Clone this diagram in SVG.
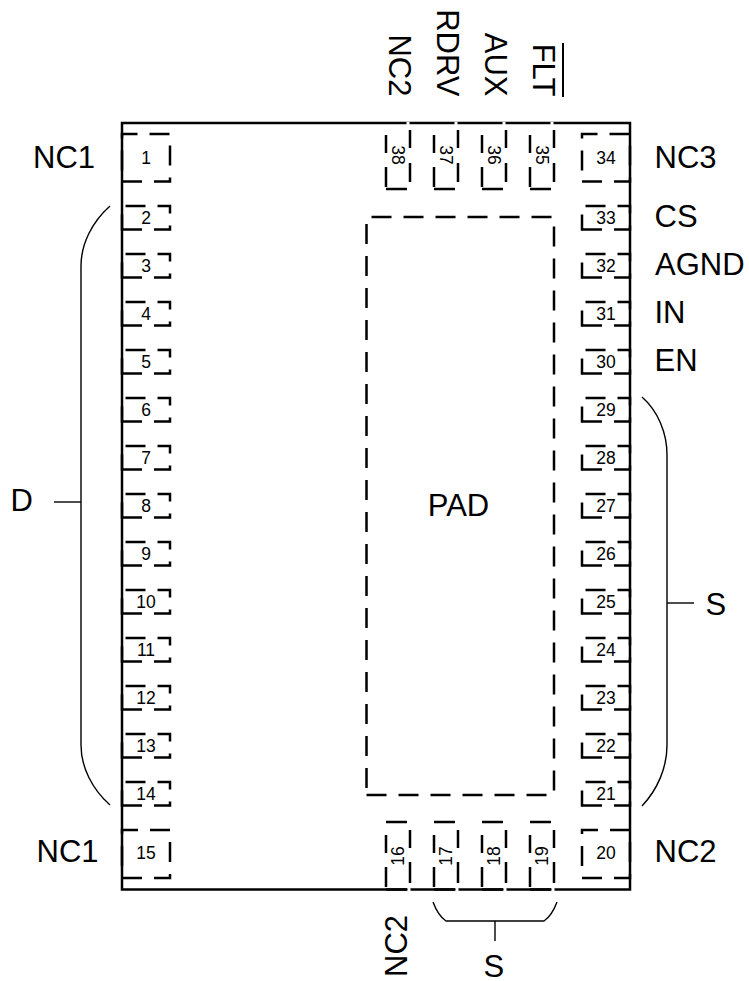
<svg xmlns="http://www.w3.org/2000/svg" width="749" height="981" viewBox="0 0 749 981">
<style>
text{font-family:"Liberation Sans",Arial,sans-serif;fill:#000}
.l{font-size:31px}
.n{font-size:17.500px;text-anchor:middle}
.p{fill:none;stroke:#000;stroke-width:2.5;stroke-dasharray:20 12}
.s{fill:none;stroke:#000;stroke-width:2.5}
.b{fill:none;stroke:#000;stroke-width:1.400}
.w{stroke:#fff;stroke-width:3}
</style>
<rect width="749" height="981" fill="#fff"/>
<g id="connectors">
<path class="b" d="M110 206C92 222 81 244 81 266V745C81 767 92 789 110 805"/>
<path class="b" d="M54 502H81"/>
<path class="b" d="M642 397C658 411 667 433 667 455V745C667 767 658 789 642 806"/>
<path class="b" d="M667 603H694"/>
<path class="b" d="M433 902C436 910 440 917 446 921H544C550 917 554 910 557 902"/>
<path class="b" d="M495 921V941"/>
</g>
<g id="package"><rect x="122" y="123" width="508" height="766.500" fill="none" stroke="#000" stroke-width="2.500"/></g>
<g id="pad"><path class="p" d="M366.500 795H554V217H366.500Z"/><text class="l" x="458.500" y="516" text-anchor="middle">PAD</text></g>
<g id="pin1"><path class="p" d="M122 181.500H170V134H122Z"/><text class="n" x="146" y="164">1</text></g>
<g id="pin2"><path class="p" d="M122 229.500H170V206H122Z"/><text class="n" x="146" y="224">2</text></g>
<g id="pin3"><path class="p" d="M122 277.500H170V254H122Z"/><text class="n" x="146" y="272">3</text></g>
<g id="pin4"><path class="p" d="M122 325.500H170V302H122Z"/><text class="n" x="146" y="320">4</text></g>
<g id="pin5"><path class="p" d="M122 373.500H170V350H122Z"/><text class="n" x="146" y="368">5</text></g>
<g id="pin6"><path class="p" d="M122 421.500H170V398H122Z"/><text class="n" x="146" y="416">6</text></g>
<g id="pin7"><path class="p" d="M122 469.500H170V446H122Z"/><text class="n" x="146" y="464">7</text></g>
<g id="pin8"><path class="p" d="M122 517.500H170V494H122Z"/><text class="n" x="146" y="512">8</text></g>
<g id="pin9"><path class="p" d="M122 565.500H170V542H122Z"/><text class="n" x="146" y="560">9</text></g>
<g id="pin10"><path class="p" d="M122 613.500H170V590H122Z"/><text class="n" x="146" y="608">10</text></g>
<g id="pin11"><path class="p" d="M122 661.500H170V638H122Z"/><text class="n" x="146" y="656">11</text></g>
<g id="pin12"><path class="p" d="M122 709.500H170V686H122Z"/><text class="n" x="146" y="704">12</text></g>
<g id="pin13"><path class="p" d="M122 757.500H170V734H122Z"/><text class="n" x="146" y="752">13</text></g>
<g id="pin14"><path class="p" d="M122 805.500H170V782H122Z"/><text class="n" x="146" y="800">14</text></g>
<g id="pin15"><path class="p" d="M122 878H170V830H122Z"/><text class="n" x="146" y="859">15</text></g>
<g id="pin16"><path class="w" d="M409 888V891"/><path class="s" d="M386 822H407M410 830V848M410 862V883M386 835V853M386 867V887M386 889.500H407"/><text class="n" transform="translate(404 856) rotate(-90)">16</text></g>
<g id="pin17"><path class="w" d="M457 888V891"/><path class="s" d="M434 822H455M458 830V848M458 862V883M434 835V853M434 867V887M434 889.500H455"/><text class="n" transform="translate(452 856) rotate(-90)">17</text></g>
<g id="pin18"><path class="w" d="M505 888V891"/><path class="s" d="M482 822H503M506 830V848M506 862V883M482 835V853M482 867V887M482 889.500H503"/><text class="n" transform="translate(500 856) rotate(-90)">18</text></g>
<g id="pin19"><path class="w" d="M553 888V891"/><path class="s" d="M530 822H551M554 830V848M554 862V883M530 835V853M530 867V887M530 889.500H551"/><text class="n" transform="translate(548 856) rotate(-90)">19</text></g>
<g id="pin20"><path class="p" d="M582 878H630V830H582Z"/><text class="n" x="606" y="859">20</text></g>
<g id="pin21"><path class="p" d="M582 805.500H630V782H582Z"/><text class="n" x="606" y="800">21</text></g>
<g id="pin22"><path class="p" d="M582 757.500H630V734H582Z"/><text class="n" x="606" y="752">22</text></g>
<g id="pin23"><path class="p" d="M582 709.500H630V686H582Z"/><text class="n" x="606" y="704">23</text></g>
<g id="pin24"><path class="p" d="M582 661.500H630V638H582Z"/><text class="n" x="606" y="656">24</text></g>
<g id="pin25"><path class="p" d="M582 613.500H630V590H582Z"/><text class="n" x="606" y="608">25</text></g>
<g id="pin26"><path class="p" d="M582 565.500H630V542H582Z"/><text class="n" x="606" y="560">26</text></g>
<g id="pin27"><path class="p" d="M582 517.500H630V494H582Z"/><text class="n" x="606" y="512">27</text></g>
<g id="pin28"><path class="p" d="M582 469.500H630V446H582Z"/><text class="n" x="606" y="464">28</text></g>
<g id="pin29"><path class="p" d="M582 421.500H630V398H582Z"/><text class="n" x="606" y="416">29</text></g>
<g id="pin30"><path class="p" d="M582 373.500H630V350H582Z"/><text class="n" x="606" y="368">30</text></g>
<g id="pin31"><path class="p" d="M582 325.500H630V302H582Z"/><text class="n" x="606" y="320">31</text></g>
<g id="pin32"><path class="p" d="M582 277.500H630V254H582Z"/><text class="n" x="606" y="272">32</text></g>
<g id="pin33"><path class="p" d="M582 229.500H630V206H582Z"/><text class="n" x="606" y="224">33</text></g>
<g id="pin34"><path class="p" d="M582 181.500H630V134H582Z"/><text class="n" x="606" y="164">34</text></g>
<g id="pin35"><path class="w" d="M552 122V125"/><path class="s" d="M530 135V153M530 167V187M530 189H551M554 130V148M554 163V182"/><text class="n" transform="translate(536 155) rotate(90)">35</text></g>
<g id="pin36"><path class="w" d="M504 122V125"/><path class="s" d="M482 135V153M482 167V187M482 189H503M506 130V148M506 163V182"/><text class="n" transform="translate(488 155) rotate(90)">36</text></g>
<g id="pin37"><path class="w" d="M456 122V125"/><path class="s" d="M434 135V153M434 167V187M434 189H455M458 130V148M458 163V182"/><text class="n" transform="translate(440 155) rotate(90)">37</text></g>
<g id="pin38"><path class="w" d="M408 122V125"/><path class="s" d="M386 135V153M386 167V187M386 189H407M410 130V148M410 163V182"/><text class="n" transform="translate(392 155) rotate(90)">38</text></g>
<g id="labels">
<text class="l" x="33" y="167.500">NC1</text>
<text class="l" x="36.500" y="862">NC1</text>
<text class="l" x="654.500" y="167.500">NC3</text>
<text class="l" x="654.500" y="227">CS</text>
<text class="l" x="655" y="275">AGND</text>
<text class="l" x="654.500" y="323">IN</text>
<text class="l" x="654.500" y="371">EN</text>
<text class="l" x="654.500" y="862">NC2</text>
<text class="l" x="10.500" y="511">D</text>
<text class="l" x="705.500" y="615">S</text>
<text class="l" x="483.500" y="976.500">S</text>
<text class="l" transform="translate(407 977) rotate(-90)">NC2</text>
<text class="l" text-anchor="end" transform="translate(388.500 96.500) rotate(90)">NC2</text>
<text class="l" text-anchor="end" transform="translate(437 96.500) rotate(90)">RDRV</text>
<text class="l" text-anchor="end" transform="translate(485 96.500) rotate(90)">AUX</text>
<text class="l" text-anchor="end" transform="translate(533 96.500) rotate(90)">FLT</text>
<path d="M563 43V97" stroke="#000" stroke-width="2"/>
</g>
</svg>
